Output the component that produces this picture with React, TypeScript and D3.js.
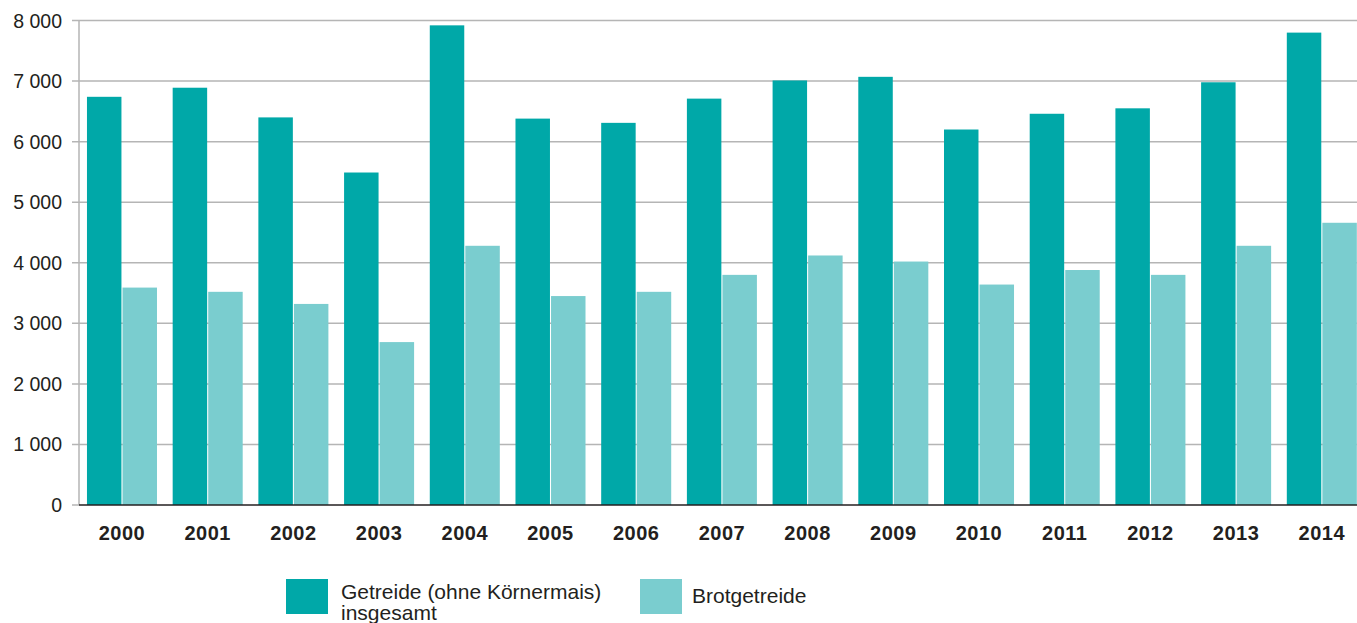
import React, { useEffect, useRef } from 'react';
import * as d3 from 'd3'

const years = ['2000', '2001', '2002', '2003', '2004', '2005', '2006', '2007', '2008', '2009', '2010', '2011', '2012', '2013', '2014']
const getreide = [6740, 6890, 6400, 5490, 7920, 6380, 6310, 6710, 7010, 7070, 6200, 6460, 6550, 6980, 7800]
const brotgetreide = [3590, 3520, 3320, 2690, 4280, 3450, 3520, 3800, 4120, 4020, 3640, 3880, 3800, 4280, 4660]
const yTicks = [0, 1000, 2000, 3000, 4000, 5000, 6000, 7000, 8000]
const seriesNames = ['Getreide (ohne Körnermais) insgesamt', 'Brotgetreide']
const colors = ['#00a8a8', '#7acdcf']

const W = 1357
const H = 623

const App: React.FC = () => {
  const svgRef = useRef() as React.MutableRefObject<SVGSVGElement>

  useEffect(() => {
    const svg = d3.select(svgRef.current)
    svg.html('')
    const font = '"Liberation Sans", Arial, Helvetica, sans-serif'

    const axisX = 79
    const y = d3.scaleLinear().domain([0, 8000]).range([505, 20.5])

    const x = d3.scaleBand<string>()
      .domain(years)
      .range([axisX, 1364.8])
      .paddingInner(0.183)
      .paddingOuter(0.093)

    const inner = d3.scaleBand<number>()
      .domain([0, 1])
      .range([0, x.bandwidth()])
      .paddingInner(0.03)

    // gridlines
    svg.append('g')
      .selectAll('line')
      .data(yTicks.filter(d => d > 0))
      .join('line')
      .attr('x1', 72).attr('x2', W)
      .attr('y1', d => y(d)).attr('y2', d => y(d))
      .attr('stroke', '#b5b5b5')
      .attr('stroke-width', 1.5)

    // tick at zero
    svg.append('line')
      .attr('x1', 72).attr('x2', axisX)
      .attr('y1', y(0)).attr('y2', y(0))
      .attr('stroke', '#b5b5b5').attr('stroke-width', 1.5)

    // vertical axis
    svg.append('line')
      .attr('x1', axisX).attr('x2', axisX)
      .attr('y1', y(8000)).attr('y2', y(0))
      .attr('stroke', '#b5b5b5').attr('stroke-width', 1.5)

    // y labels
    svg.append('g')
      .selectAll('text')
      .data(yTicks)
      .join('text')
      .attr('x', 62)
      .attr('y', d => y(d) + 7)
      .attr('text-anchor', 'end')
      .attr('font-family', font)
      .attr('font-size', 19.5)
      .attr('fill', '#231f20')
      .text(d => d3.format(',')(d).replace(',', ' '))

    // bars
    const series = [getreide, brotgetreide]
    const groups = svg.append('g')
      .selectAll('g')
      .data(years)
      .join('g')
      .attr('transform', d => `translate(${x(d)},0)`)

    groups.selectAll('rect')
      .data((_, i) => series.map((s, k) => ({ k, v: s[i] })))
      .join('rect')
      .attr('x', d => inner(d.k) as number)
      .attr('width', inner.bandwidth())
      .attr('y', d => y(d.v))
      .attr('height', d => y(0) - y(d.v))
      .attr('fill', d => colors[d.k])

    // baseline
    svg.append('line')
      .attr('x1', axisX).attr('x2', W)
      .attr('y1', y(0)).attr('y2', y(0))
      .attr('stroke', '#231f20').attr('stroke-width', 1.5)

    // x labels
    svg.append('g')
      .selectAll('text')
      .data(years)
      .join('text')
      .attr('x', d => (x(d) as number) + x.bandwidth() / 2)
      .attr('y', 540)
      .attr('text-anchor', 'middle')
      .attr('font-family', font)
      .attr('font-weight', 'bold')
      .attr('font-size', 20)
      .attr('letter-spacing', 0.5)
      .attr('fill', '#231f20')
      .text(d => d)

    // legend
    const legend = svg.append('g')
    legend.append('rect')
      .attr('x', 286).attr('y', 579).attr('width', 42).attr('height', 35)
      .attr('fill', colors[0])
    const t1 = legend.append('text')
      .attr('x', 341).attr('y', 599)
      .attr('font-family', font).attr('font-size', 21).attr('fill', '#231f20')
    t1.append('tspan').attr('x', 341).text('Getreide (ohne Körnermais)')
    t1.append('tspan').attr('x', 341).attr('dy', 21).text('insgesamt')

    legend.append('rect')
      .attr('x', 640).attr('y', 579).attr('width', 42).attr('height', 35)
      .attr('fill', colors[1])
    legend.append('text')
      .attr('x', 692).attr('y', 603)
      .attr('font-family', font).attr('font-size', 21).attr('fill', '#231f20')
      .text(seriesNames[1])
  }, [])

  return (
    <div style={{ position: 'absolute', left: 0, top: 0 }}>
      <svg ref={svgRef} width={W} height={H} style={{ display: 'block', background: '#fff' }} />
    </div>
  )
}

export default App
